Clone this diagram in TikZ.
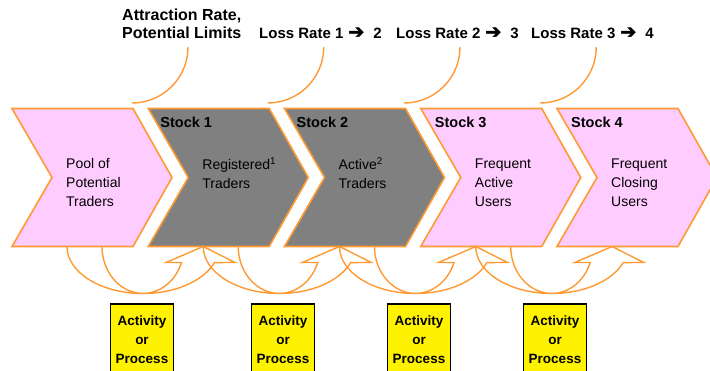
\documentclass[tikz,border=0pt]{standalone}
\usepackage{fontspec}
\setmainfont{Liberation Sans}
\newfontfamily\arrowfont[FakeBold=2.5]{DejaVu Sans}
\usepackage{xcolor}
\usepackage{tikz}
\usetikzlibrary{calc}

\definecolor{chevpink}{HTML}{FFCCFF}
\definecolor{chevgray}{HTML}{808080}
\definecolor{flowline}{HTML}{FF9933}
\newcommand{\goesto}{\hspace{5pt}{\arrowfont\fontsize{19}{19}\selectfont ➔}\hspace{9pt}}

\begin{document}
\begin{tikzpicture}[
    x=1pt, y=-1pt,
    chevron/.style={draw=flowline, line width=1.6pt, line join=miter},
    pinkchev/.style={chevron, fill=chevpink},
    graychev/.style={chevron, fill=chevgray},
    rate/.style={draw=flowline, line width=1.4pt},
    cycler/.style={draw=flowline, line width=1.4pt, line join=miter},
    ratelabel/.style={font=\bfseries\fontsize{15}{18}\selectfont, inner sep=0pt, anchor=west, align=left},
    stocklabel/.style={font=\bfseries\fontsize{14.5}{17}\selectfont, inner sep=0pt, anchor=west},
    bodytext/.style={font=\fontsize{14}{19}\selectfont, inner sep=0pt, anchor=west, align=left},
    process/.style={draw=black, line width=1.5pt, fill=yellow, anchor=north, minimum width=63, inner xsep=1pt, inner ysep=12pt, align=center, font=\bfseries\fontsize{13.5}{19}\selectfont}
]
    \useasboundingbox (0,0) rectangle (710,370);
    \clip (0,0) rectangle (710,370);

    % Chevrons
    \coordinate (pool) at (12,108.5);
    \coordinate (regd) at (148.25,108.5);
    \coordinate (actv) at (284.5,108.5);
    \coordinate (freqa) at (420.75,108.5);
    \coordinate (freqc) at (557,108.5);
    \draw[pinkchev] (pool) -- ++(121,0) -- ++(39,69) -- ++(-39,69) -- ++(-121,0) -- ++(40,-69) -- cycle;
    \draw[graychev] (regd) -- ++(121,0) -- ++(39,69) -- ++(-39,69) -- ++(-121,0) -- ++(40,-69) -- cycle;
    \draw[graychev] (actv) -- ++(121,0) -- ++(39,69) -- ++(-39,69) -- ++(-121,0) -- ++(40,-69) -- cycle;
    \draw[pinkchev] (freqa) -- ++(121,0) -- ++(39,69) -- ++(-39,69) -- ++(-121,0) -- ++(40,-69) -- cycle;
    \draw[pinkchev] (freqc) -- ++(121,0) -- ++(39,69) -- ++(-39,69) -- ++(-121,0) -- ++(40,-69) -- cycle;

    % Nodes
    \node[ratelabel, font=\bfseries\fontsize{16}{18}\selectfont] (attr) at (122,24) {Attraction Rate,\\Potential Limits};
    \node[ratelabel] (lossA) at (259,33) {Loss Rate 1\goesto 2};
    \node[ratelabel] (lossB) at (396,33) {Loss Rate 2\goesto 3};
    \node[ratelabel] (lossC) at (531,33) {Loss Rate 3\goesto 4};

    \node[stocklabel] (stockA) at ($(regd)+(12,13.5)$) {Stock 1};
    \node[stocklabel] (stockB) at ($(actv)+(12,13.5)$) {Stock 2};
    \node[stocklabel] (stockC) at ($(freqa)+(14,13.5)$) {Stock 3};
    \node[stocklabel] (stockD) at ($(freqc)+(14,13.5)$) {Stock 4};

    \node[bodytext] (pooltxt) at ($(pool)+(54,74)$) {Pool of\\Potential\\Traders};
    \node[bodytext] (regdtxt) at ($(regd)+(54,65)$) {Registered\textsuperscript{1}\\Traders};
    \node[bodytext] (actvtxt) at ($(actv)+(54,65)$) {Active\textsuperscript{2}\\Traders};
    \node[bodytext] (freqatxt) at ($(freqa)+(54,74)$) {Frequent\\Active\\Users};
    \node[bodytext] (freqctxt) at ($(freqc)+(54,74)$) {Frequent\\Closing\\Users};

    \node[process] (procA) at (142,303) {Activity\\or\\Process};
    \node[process] (procB) at (283,303) {Activity\\or\\Process};
    \node[process] (procC) at (419,303) {Activity\\or\\Process};
    \node[process] (procD) at (555,303) {Activity\\or\\Process};

    % Paths
    \coordinate (gapA) at ($(pool)+(120,-5.5)$);
    \coordinate (gapB) at ($(regd)+(119.5,-5.5)$);
    \coordinate (gapC) at ($(actv)+(119.5,-5.5)$);
    \coordinate (gapD) at ($(freqa)+(119.5,-5.5)$);
    \draw[rate] (gapA) arc[start angle=-90, end angle=0, radius=56pt];
    \draw[rate] (gapB) arc[start angle=-90, end angle=0, radius=56pt];
    \draw[rate] (gapC) arc[start angle=-90, end angle=0, radius=56pt];
    \draw[rate] (gapD) arc[start angle=-90, end angle=0, radius=56pt];

    \draw[cycler] ($(pool)+(55,138)$) arc[start angle=180, end angle=340, x radius=76pt, y radius=47pt]
        -- ($(pool)+(223,154)$) -- ($(regd)+(55,138)$) -- ($(pool)+(154,154)$) -- ($(pool)+(169.5,154)$)
        arc[start angle=340, end angle=180, x radius=41pt, y radius=47pt];
    \draw[cycler] ($(regd)+(55,138)$) arc[start angle=180, end angle=340, x radius=76pt, y radius=47pt]
        -- ($(regd)+(223,154)$) -- ($(actv)+(55,138)$) -- ($(regd)+(154,154)$) -- ($(regd)+(169.5,154)$)
        arc[start angle=340, end angle=180, x radius=41pt, y radius=47pt];
    \draw[cycler] ($(actv)+(55,138)$) arc[start angle=180, end angle=340, x radius=76pt, y radius=47pt]
        -- ($(actv)+(223,154)$) -- ($(freqa)+(55,138)$) -- ($(actv)+(154,154)$) -- ($(actv)+(169.5,154)$)
        arc[start angle=340, end angle=180, x radius=41pt, y radius=47pt];
    \draw[cycler] ($(freqa)+(55,138)$) arc[start angle=180, end angle=340, x radius=76pt, y radius=47pt]
        -- ($(freqa)+(223,154)$) -- ($(freqc)+(55,138)$) -- ($(freqa)+(154,154)$) -- ($(freqa)+(169.5,154)$)
        arc[start angle=340, end angle=180, x radius=41pt, y radius=47pt];
\end{tikzpicture}
\end{document}
